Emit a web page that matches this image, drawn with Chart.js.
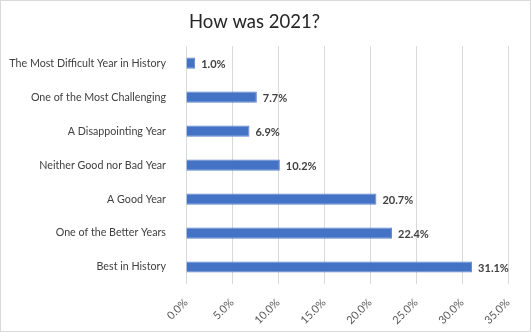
<!DOCTYPE html>
<html>
<head>
<meta charset="utf-8">
<script src="https://cdn.jsdelivr.net/npm/chart.js@4"></script>
<style>
  body { margin: 0; background: #fff; }
  #caja { width: 531px; height: 332px; box-sizing: border-box; border: 1px solid #d9d9d9; }
</style>
</head>
<body>
<div id="caja"><canvas id="grafico" width="529" height="330"></canvas></div>
<script>
const categorias = [
    "The Most Difficult Year in History",
    "One of the Most Challenging",
    "A Disappointing Year",
    "Neither Good nor Bad Year",
    "A Good Year",
    "One of the Better Years",
    "Best in History"
];
const porcentajes = [1.0, 7.7, 6.9, 10.2, 20.7, 22.4, 31.1];
const ticksEjeX = [0, 5, 10, 15, 20, 25, 30, 35];

const fuente = "Lato, 'Liberation Sans', sans-serif";

// etiquetas de valor a la derecha de cada barra
const etiquetasValor = {
    id: "etiquetasValor",
    afterDatasetsDraw(chart) {
        const c = chart.ctx;
        const meta = chart.getDatasetMeta(0);
        c.save();
        c.font = "bold 11px " + fuente;
        c.fillStyle = "#404040";
        c.textBaseline = "middle";
        c.textAlign = "left";
        meta.data.forEach((barra, i) => {
            c.fillText(porcentajes[i].toFixed(1) + "%", barra.x + 6, barra.y + 1);
        });
        c.restore();
    }
};

const ctx = document.getElementById("grafico").getContext("2d");
const chart = new Chart(ctx, {
    type: "bar",
    data: {
        labels: categorias,
        datasets: [{
            data: porcentajes,
            backgroundColor: "#4472C4",
            borderColor: "#5b86d3",
            borderWidth: 1,
            categoryPercentage: 0.66,
            barPercentage: 0.5
        }]
    },
    options: {
        indexAxis: "y",
        responsive: false,
        animation: false,
        layout: { padding: { left: 0, right: 22, top: 0, bottom: 0 } },
        plugins: {
            legend: { display: false },
            tooltip: { enabled: false },
            title: {
                display: true,
                text: "How was 2021?",
                color: "#262626",
                font: { family: fuente, size: 18.5, weight: "normal" },
                padding: { top: 10, bottom: 13 }
            }
        },
        scales: {
            x: {
                min: 0,
                max: 35,
                afterBuildTicks: s => { s.ticks = ticksEjeX.map(v => ({ value: v })); },
                afterFit: s => { s.height = 47; },
                border: { display: false },
                grid: { color: "#d9d9d9", drawTicks: false },
                ticks: {
                    color: "#595959",
                    font: { family: fuente, size: 11 },
                    minRotation: 45,
                    maxRotation: 45,
                    padding: 12,
                    callback: v => v.toFixed(1) + "%"
                }
            },
            y: {
                afterFit: s => { s.width = 185; },
                border: { display: false },
                grid: { display: false },
                ticks: {
                    color: "#404040",
                    font: { family: fuente, size: 10.7 },
                    padding: 12
                }
            }
        }
    },
    plugins: [etiquetasValor]
});
</script>
</body>
</html>
